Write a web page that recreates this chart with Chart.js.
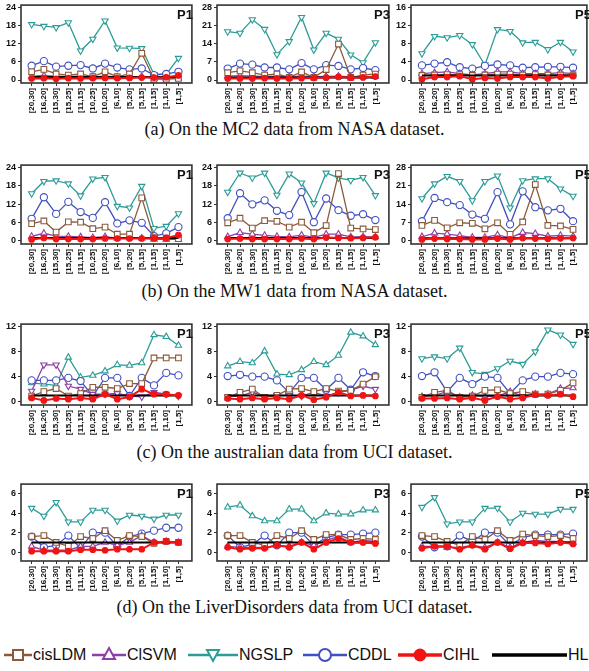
<!DOCTYPE html>
<html>
<head>
<meta charset="utf-8">
<script src="https://cdn.jsdelivr.net/npm/chart.js@4/dist/chart.umd.min.js"></script>
<style>
  body { margin: 0; width: 589px; height: 671px; overflow: hidden; position: relative; background: #fff; }
  .panel { position: absolute; }
  .plabel { position: absolute; font: bold 13px Arial, "Liberation Sans", sans-serif; color: #111; }
  .cap { position: absolute; left: 0; width: 589px; text-align: center; font: 18px "Liberation Serif", "Times New Roman", serif; color: #111; }
  #legend { position: absolute; left: 0; top: 643px; width: 620px; height: 24px; white-space: nowrap; font: 16px Arial, "Liberation Sans", sans-serif; color: #111; }
  #legend span.it { position: absolute; top: 0; display: flex; align-items: center; height: 24px; }
  #legend svg { display: block; }
</style>
</head>
<body>
<div id="legend"></div>
<div class="cap" style="top:119px">(a) On the MC2 data from NASA dataset.</div>
<div class="cap" style="top:281px">(b) On the MW1 data from NASA dataset.</div>
<div class="cap" style="top:442px">(c) On the australian data from UCI dataset.</div>
<div class="cap" style="top:597px">(d) On the LiverDisorders data from UCI dataset.</div>
<script>
// categories on the x axis
const cats = ['[20,30]','[16,20]','[15,30]','[15,25]','[11,15]','[10,25]','[10,20]','[6,10]','[5,20]','[5,15]','[1,15]','[1,10]','[1,5]'];
const seriesNames = ['cisLDM', 'ClSVM', 'NGSLP', 'CDDL', 'CIHL'];
const hlValue = 1; // HL baseline

// each panel: [cisLDM, ClSVM, NGSLP, CDDL, CIHL]
const mc2P1 = [
  [2.7,3.5,2.0,1.6,2.0,1.1,2.7,1.1,2.0,8.8,0.3,0.3,0.5],
  [1.2,1.5,1.2,1.2,1.3,1.0,1.3,1.0,1.0,1.1,0.5,0.5,0.6],
  [18.3,17.7,17.3,18.9,9.6,13.5,19.5,10.6,10.5,10.4,1.9,1.9,7.2],
  [4.7,6.2,4.4,4.7,4.9,3.8,5.4,4.1,3.5,3.8,1.6,2.0,2.7],
  [0.5,0.6,0.4,0.6,0.5,0.6,0.7,0.6,0.7,0.8,0.8,0.9,1.5]];
const mc2P3 = [
  [2.8,3.5,2.8,1.9,2.3,1.0,3.1,1.0,4.0,13.8,1.0,1.9,2.3],
  [1.5,1.7,1.5,1.4,1.4,1.2,1.6,1.2,1.4,1.5,1.2,1.3,1.3],
  [18.6,18.0,23.2,19.5,9.8,14.8,24.1,11.6,18.0,15.7,9.7,6.7,14.4],
  [4.4,6.3,5.9,4.8,4.8,4.1,6.5,4.1,5.7,5.4,4.1,4.6,3.8],
  [0.6,0.6,0.6,0.7,0.6,0.6,0.7,0.8,0.9,1.2,0.9,1.0,1.3]];
const mc2P5 = [
  [1.0,1.1,1.2,1.2,1.0,1.1,1.3,1.3,1.1,1.2,1.1,1.1,1.1],
  [1.4,1.6,1.8,1.4,1.1,1.4,1.8,1.8,1.4,1.4,1.4,1.6,1.4],
  [5.8,9.6,9.3,9.8,7.8,3.3,11.1,10.7,8.2,8.3,6.7,8.3,6.2],
  [3.2,3.6,3.9,2.8,2.5,3.1,3.4,3.2,2.7,2.8,2.9,2.9,2.7],
  [0.15,0.65,0.65,0.85,0.15,0.45,0.35,0.65,0.65,0.65,0.35,0.7,0.85]];
const mw1P1 = [
  [5.6,6.5,2.9,6.2,6.1,4.0,4.5,2.2,2.2,14.0,1.1,0.9,0.75],
  [1.5,2.5,1.6,1.5,1.3,1.1,1.4,0.9,1.0,0.9,0.5,0.5,0.5],
  [15.4,19.4,19.6,18.6,14.7,20.2,20.7,11.3,10.8,17.8,4.1,4.8,8.9],
  [7.2,14.2,8.8,12.7,9.4,7.5,12.6,5.7,6.7,5.9,1.6,2.5,4.5],
  [0.5,1.0,0.6,0.6,0.6,0.6,0.8,0.8,0.8,0.8,0.9,1.0,1.9]];
const mw1P3 = [
  [5.9,7.4,4.2,6.6,6.4,4.5,6.1,2.7,5.0,21.9,4.2,3.9,3.7],
  [1.4,2.7,2.2,1.8,1.5,1.3,1.9,1.2,2.2,2.2,1.3,1.4,1.3],
  [15.9,22.1,20.5,22.1,14.9,21.8,18.9,12.2,22.1,20.5,19.7,20.7,14.8],
  [7.4,15.5,11.9,13.2,9.8,8.4,15.9,6.1,13.8,10.0,8.2,8.7,6.8],
  [0.6,0.8,0.6,0.6,0.6,0.6,0.8,0.6,1.1,1.0,0.9,1.0,1.2]];
const mw1P5 = [
  [5.9,7.8,5.0,6.9,6.7,4.6,6.9,2.5,7.2,21.4,5.9,5.7,4.4],
  [1.6,3.0,2.6,2.0,1.4,1.4,2.3,1.2,3.2,2.8,1.8,2.1,1.8],
  [16.1,21.7,24.5,22.6,15.3,22.6,24.7,12.6,22.9,23.6,23.6,19.8,17.0],
  [7.5,16.3,14.7,13.6,10.0,8.4,18.5,6.3,18.8,12.8,11.6,12.2,7.5],
  [0.6,0.9,0.7,0.7,0.6,0.6,0.9,0.6,1.1,0.9,0.8,1.0,1.1]];
const ausP1 = [
  [0.9,1.6,2.1,0.9,1.3,2.3,2.3,2.1,2.9,2.9,7.0,7.0,7.0],
  [1.7,5.9,5.9,2.5,2.0,1.2,1.2,1.3,0.9,0.75,1.5,1.2,0.9],
  [3.0,2.8,2.6,7.1,3.9,4.2,4.9,5.9,5.8,6.2,10.7,10.4,9.0],
  [3.4,3.4,3.4,3.8,3.3,0.9,3.8,3.8,0.9,3.8,2.6,4.6,4.2],
  [0.6,0.2,0.5,0.4,0.6,0.4,1.2,0.4,0.75,2.0,1.2,1.2,1.0]];
const ausP3 = [
  [0.7,1.5,2.0,0.7,1.0,2.0,2.1,1.6,2.1,1.7,1.8,2.8,4.0],
  [0.8,0.9,1.5,0.8,1.0,1.0,0.9,1.5,0.9,1.5,1.8,2.5,2.0],
  [5.7,6.4,6.2,8.1,4.4,4.3,5.1,6.4,5.9,7.4,11.1,10.5,9.1],
  [4.1,4.3,4.0,4.0,3.4,1.4,3.8,3.8,1.9,3.8,1.9,4.7,4.1],
  [0.5,0.4,0.6,0.4,0.6,0.4,1.0,0.3,0.7,1.5,0.9,1.0,0.9]];
const ausP5 = [
  [0.7,1.5,1.8,0.7,0.9,1.8,1.9,1.3,1.6,1.2,1.2,1.8,3.0],
  [0.8,1.0,1.6,0.7,1.0,0.8,0.9,1.6,0.9,1.2,1.2,2.1,2.2],
  [6.9,7.2,6.9,8.6,4.7,4.4,5.3,6.5,6.0,8.0,11.5,10.7,9.2],
  [4.1,4.7,1.6,3.8,2.8,4.0,3.8,1.3,3.4,4.0,4.0,4.6,4.4],
  [0.5,0.5,0.6,0.4,0.6,0.2,0.8,0.4,0.6,1.1,1.0,1.2,0.8]];
const liverP1 = [
  [1.6,1.7,1.0,0.6,1.6,1.4,2.2,1.2,1.7,1.6,0.9,1.1,1.0],
  [0.6,0.2,0.2,0.2,0.6,0.6,1.0,0.7,1.0,1.7,1.0,1.1,1.0],
  [4.5,3.7,5.1,3.1,3.1,4.3,4.3,3.2,3.8,3.7,3.4,3.8,3.8],
  [1.6,0.5,0.7,1.7,0.4,2.0,2.0,0.6,1.6,1.9,2.2,2.5,2.5],
  [0.1,0.1,0.1,0.1,0.25,0.25,0.2,0.3,0.3,0.3,1.0,1.1,1.0]];
const liverP3 = [
  [1.7,1.7,1.0,0.7,1.7,1.4,2.2,1.3,1.8,1.8,1.3,1.4,1.3],
  [0.6,0.5,0.5,0.5,0.7,0.6,1.0,0.7,1.2,1.6,1.0,1.2,1.1],
  [4.6,4.8,3.7,3.2,3.2,4.4,4.4,3.2,4.0,3.9,3.9,4.3,4.3],
  [1.7,0.5,0.8,1.7,0.7,2.0,2.0,0.7,1.5,1.8,1.8,1.9,2.0],
  [0.5,0.3,0.4,0.4,0.7,0.5,1.0,0.3,1.0,1.4,1.0,1.0,0.9]];
const liverP5 = [
  [1.7,1.6,1.1,0.7,1.6,1.3,2.2,1.2,1.85,1.7,1.6,1.7,1.4],
  [0.6,0.6,0.5,0.5,0.7,0.5,1.0,0.5,1.0,1.2,1.1,1.1,1.0],
  [4.6,5.6,2.9,3.1,3.1,4.5,4.5,3.1,4.0,3.9,3.9,4.4,4.4],
  [1.6,0.5,0.6,1.7,1.1,2.0,2.0,0.7,1.5,1.8,1.8,1.8,1.9],
  [0.4,0.6,0.6,0.3,0.7,0.3,1.0,0.35,0.95,0.95,0.85,1.0,0.85]];

// y tick top value per panel
const yTop = [24, 28, 16, 24, 24, 28, 12, 12, 12, 6, 6, 6];

const colors = { cisLDM: '#8a5a3a', ClSVM: '#8c3fa6', NGSLP: '#2c9c96', CDDL: '#4150c0', CIHL: '#f01414' };
const styles = { cisLDM: 'rect', ClSVM: 'triangle', NGSLP: 'triangle', CDDL: 'circle', CIHL: 'circle' };

// layout of the grid
const cols = [ { left: 0, w: 197, yw: 21, lr: 4 }, { left: 195, w: 199, yw: 22, lr: 4 }, { left: 390, w: 202, yw: 21, lr: 1 } ];
const rows = [
  { top: 0, h: 120, lo: -0.041, hi: 1.027 },
  { top: 160, h: 121, lo: -0.041, hi: 1.027 },
  { top: 319, h: 123, lo: -0.045, hi: 1.035 },
  { top: 479, h: 119, lo: -0.15, hi: 1.16 }
];
const panels = [mc2P1, mc2P3, mc2P5, mw1P1, mw1P3, mw1P5, ausP1, ausP3, ausP5, liverP1, liverP3, liverP5];
const pNames = ['P1', 'P3', 'P5'];
// triangle orientation quirks seen in the reference (rotation for ClSVM, NGSLP)
const triRot = [[0,180],[0,180],[0,180],[0,180],[0,180],[0,180],[180,0],[180,0],[0,180],[0,180],[0,0],[0,180]];

const framePlugin = {
  id: 'frame',
  afterDatasetsDraw(chart) {
    const a = chart.chartArea, ctx = chart.ctx;
    ctx.save();
    ctx.strokeStyle = '#333';
    ctx.lineWidth = 1.6;
    ctx.strokeRect(a.left, a.top, a.right - a.left, a.bottom - a.top);
    ctx.restore();
  }
};

panels.forEach(function (pdata, k) {
  const r = rows[Math.floor(k / 3)], c = cols[k % 3];
  const M = yTop[k], step = M / (k >= 6 ? 3 : 4);

  const box = document.createElement('div');
  box.className = 'panel';
  box.style.left = c.left + 'px';
  box.style.top = r.top + 'px';
  box.style.width = c.w + 'px';
  box.style.height = r.h + 'px';
  const cv = document.createElement('canvas');
  cv.width = c.w; cv.height = r.h;
  box.appendChild(cv);
  const lab = document.createElement('div');
  lab.className = 'plabel';
  lab.textContent = pNames[k % 3];
  lab.style.right = c.lr + 'px';
  lab.style.top = '7px';
  box.appendChild(lab);
  document.body.appendChild(box);

  const datasets = [];
  // CIHL on top, then HL, then the rest
  const order = [4, -1, 0, 1, 3, 2];
  order.forEach(function (s) {
    if (s === -1) {
      datasets.push({
        label: 'HL',
        data: cats.map((_, i) => ({ x: i, y: hlValue })),
        borderColor: '#000', borderWidth: 2, pointRadius: 0
      });
      return;
    }
    const name = seriesNames[s];
    let rot = 0;
    if (name === 'ClSVM') rot = triRot[k][0];
    if (name === 'NGSLP') rot = triRot[k][1];
    datasets.push({
      label: name,
      data: pdata[s].map((v, i) => ({ x: i, y: v })),
      borderColor: colors[name],
      borderWidth: name === 'CIHL' ? 2 : 1.3,
      pointStyle: styles[name],
      pointRotation: rot,
      pointRadius: name === 'CIHL' ? 2.8 : (name === 'cisLDM' ? 4 : 3.6),
      pointBorderWidth: 1.1,
      pointBackgroundColor: name === 'CIHL' ? colors[name] : '#fff',
      pointBorderColor: colors[name]
    });
  });

  new Chart(cv, {
    type: 'line',
    data: { datasets: datasets },
    plugins: [framePlugin],
    options: {
      responsive: false,
      animation: false,
      devicePixelRatio: 1,
      layout: { padding: { top: 5, left: 0, right: 0, bottom: 0 } },
      plugins: { legend: { display: false }, tooltip: { enabled: false } },
      scales: {
        x: {
          type: 'linear',
          min: -0.87, max: 13.1,
          afterBuildTicks: ax => { ax.ticks = cats.map((_, i) => ({ value: i })); },
          afterFit: ax => { ax.height = 37; ax.paddingLeft = 0; ax.paddingRight = 0; },
          ticks: {
            callback: v => cats[v],
            autoSkip: false, minRotation: 90, maxRotation: 90, padding: 2,
            color: '#111', font: { family: 'Arial', size: 8, weight: 'bold' }
          },
          grid: { drawOnChartArea: false, tickLength: 3, color: '#333' },
          border: { display: false }
        },
        y: {
          min: M * r.lo, max: M * r.hi,
          afterBuildTicks: ax => {
            const t = [];
            for (let v = 0; v <= M + 1e-9; v += step) t.push({ value: v });
            ax.ticks = t;
          },
          afterFit: ax => { ax.width = c.yw; ax.paddingTop = 0; ax.paddingBottom = 0; },
          ticks: { padding: 2, color: '#111', font: { family: 'Arial', size: 9, weight: 'bold' } },
          grid: { drawOnChartArea: false, tickLength: 3, color: '#333' },
          border: { display: false }
        }
      }
    }
  });
});

// legend: line + marker then name
const legendItems = [
  { name: 'cisLDM', x: 4, w: 28 },
  { name: 'ClSVM', x: 92, w: 34 },
  { name: 'NGSLP', x: 188, w: 50 },
  { name: 'CDDL', x: 303, w: 44 },
  { name: 'CIHL', x: 398, w: 44 },
  { name: 'HL', x: 492, w: 75 }
];
const legend = document.getElementById('legend');
legendItems.forEach(function (it) {
  const col = colors[it.name] || '#000';
  const mid = it.w / 2;
  let mark = '';
  if (it.name === 'cisLDM') mark = `<rect x="${mid-5}" y="7" width="10" height="10" fill="#fff" stroke="${col}" stroke-width="2"/>`;
  if (it.name === 'ClSVM') mark = `<polygon points="${mid},5 ${mid+6},16 ${mid-6},16" fill="#fff" stroke="${col}" stroke-width="2"/>`;
  if (it.name === 'NGSLP') mark = `<polygon points="${mid-6},7 ${mid+6},7 ${mid},18" fill="#fff" stroke="${col}" stroke-width="2"/>`;
  if (it.name === 'CDDL') mark = `<circle cx="${mid}" cy="12" r="6" fill="#fff" stroke="${col}" stroke-width="2"/>`;
  if (it.name === 'CIHL') mark = `<circle cx="${mid}" cy="12" r="6.5" fill="${col}"/>`;
  const sw = it.name === 'CIHL' || it.name === 'HL' ? 3.5 : 2.5;
  const span = document.createElement('span');
  span.className = 'it';
  span.style.left = it.x + 'px';
  span.innerHTML = `<svg width="${it.w}" height="24"><line x1="0" y1="12" x2="${it.w}" y2="12" stroke="${col}" stroke-width="${sw}"/>${mark}</svg><span style="margin-left:1px">${it.name}</span>`;
  legend.appendChild(span);
});
</script>
</body>
</html>
